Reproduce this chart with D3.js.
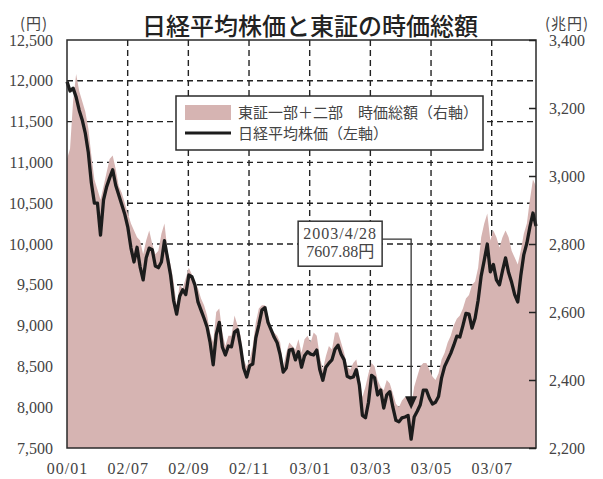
<!DOCTYPE html>
<html>
<head>
<meta charset="utf-8">
<script src="https://cdn.jsdelivr.net/npm/d3@7"></script>
<style>
  body { margin: 0; background: #fff; }
  svg { display: block; }
</style>
</head>
<body>
<div id="chart"></div>
<script>
//
// Data (one sample every ~1/10 month, left edge = 0)
//
const nikkei = [
  11990, 11875, 11910, 11800, 11640, 11520, 11360, 11120, 10750, 10500,
  10500, 10110, 10540, 10700, 10810, 10910, 10720, 10600, 10480, 10360,
  10200, 9950, 9780, 9960, 9720, 9560, 9830, 9950, 9930, 9730,
  9710, 9780, 10040, 9830, 9620, 9310, 9140, 9360, 9440, 9380,
  9620, 9600, 9500, 9290, 9190, 9090, 8980, 8790, 8520, 8890,
  9040, 8740, 8640, 8750, 8740, 8920, 8950, 8740, 8480, 8370,
  8510, 8530, 8850, 9010, 9190, 9220, 9040, 8950, 8860, 8790,
  8640, 8430, 8480, 8700, 8710, 8580, 8680, 8490, 8630, 8680,
  8650, 8640, 8700, 8460, 8330, 8490, 8540, 8580, 8710, 8760,
  8650, 8580, 8380, 8360, 8370, 8460, 8270, 7900, 7870, 8060,
  8390, 8360, 8150, 8210, 7990, 8150, 8190, 8000, 7840, 7820,
  7870, 7880, 7900, 7607.88, 7880, 7950, 8030, 8210, 8210, 8110,
  8040, 8060, 8130, 8360, 8500, 8580, 8660, 8760, 8870, 8860,
  9000, 9150, 9140, 8970, 9090, 9310, 9610, 9800, 10000, 9660,
  9750, 9560, 9500, 9670, 9830, 9650, 9530, 9380, 9290, 9610,
  9870, 10010, 10210, 10380, 10220
]
const marketCap = [
  3050, 3080, 3220, 3300, 3250, 3220, 3190, 3140, 3060, 2990,
  2960, 2930, 2970, 3010, 3050, 3060, 3020, 2970, 2950, 2920,
  2890, 2860, 2840, 2820, 2810, 2770, 2810, 2840, 2800, 2770,
  2780, 2830, 2860, 2780, 2740, 2690, 2620, 2680, 2670, 2700,
  2730, 2710, 2690, 2670, 2640, 2620, 2590, 2540, 2510, 2600,
  2610, 2540, 2500, 2530, 2530, 2590, 2560, 2530, 2460, 2440,
  2460, 2500, 2570, 2610, 2620, 2620, 2590, 2550, 2540, 2530,
  2510, 2440, 2480, 2510, 2500, 2490, 2520, 2480, 2520, 2530,
  2510, 2540, 2530, 2470, 2430, 2470, 2500, 2490, 2540, 2540,
  2510, 2480, 2440, 2430, 2450, 2460, 2410, 2350, 2380, 2420,
  2450, 2440, 2400, 2380, 2370, 2400, 2390, 2360, 2330, 2320,
  2340, 2350, 2350, 2320, 2380, 2410, 2440, 2450, 2450, 2430,
  2410, 2400, 2420, 2460, 2480, 2510, 2530, 2560, 2580, 2590,
  2610, 2640, 2650, 2680, 2690, 2730, 2820, 2860, 2890, 2810,
  2840, 2820, 2790, 2820, 2840, 2820, 2780, 2760, 2740, 2780,
  2830, 2860, 2930, 2990, 2970
]
const monthSpan = 15.46
const xTickMonths = [0, 2, 4, 6, 8, 10, 12, 14]
const xTickLabels = ['00/01', '02/07', '02/09', '02/11', '03/01', '03/03', '03/05', '03/07']
const leftTicks = [7500, 8000, 8500, 9000, 9500, 10000, 10500, 11000, 11500, 12000, 12500]
const rightTicks = [2200, 2400, 2600, 2800, 3000, 3200, 3400]
const lowIndex = 113
const lowDate = '2003/4/28'
const lowLabel = '7607.88円'

const title = '日経平均株価と東証の時価総額'
const legendCap = '東証一部＋二部　時価総額（右軸）'
const legendNikkei = '日経平均株価（左軸）'

const W = 603, H = 479
const plot = { left: 67, right: 536, top: 40, bottom: 448 }
const serif = '"Liberation Serif", "DejaVu Serif", serif'
const cjk = '"Noto Sans CJK JP", "Noto Sans", sans-serif'

const svg = d3.select('#chart').append('svg').attr('width', W).attr('height', H)

const x = d3.scaleLinear().domain([0, monthSpan]).range([plot.left, plot.right])
const yL = d3.scaleLinear().domain([7500, 12500]).range([plot.bottom, plot.top])
const yR = d3.scaleLinear().domain([2200, 3400]).range([plot.bottom, plot.top])
const monthOf = i => i * monthSpan / (nikkei.length - 1)

//
// Grid (dashed), drawn first so the area covers it
//
const grid = svg.append('g').attr('stroke', '#222').attr('stroke-width', 1.4).attr('stroke-dasharray', '6,4')
grid.selectAll('line.h').data(leftTicks.slice(1, -1)).enter().append('line')
  .attr('x1', plot.left).attr('x2', plot.right)
  .attr('y1', d => yL(d)).attr('y2', d => yL(d))
grid.selectAll('line.v').data(xTickMonths.slice(1)).enter().append('line')
  .attr('x1', d => x(d)).attr('x2', d => x(d))
  .attr('y1', plot.top).attr('y2', plot.bottom)

//
// Market cap area (right axis) and Nikkei line (left axis)
//
const area = d3.area()
  .x((d, i) => x(monthOf(i)))
  .y0(yR(2200))
  .y1(d => yR(d))
svg.append('path').datum(marketCap).attr('d', area).attr('fill', '#d6b4b2')

const line = d3.line()
  .x((d, i) => x(monthOf(i)))
  .y(d => yL(d))
svg.append('path').datum(nikkei).attr('d', line)
  .attr('fill', 'none').attr('stroke', '#1c1c1c').attr('stroke-width', 3.3)
  .attr('stroke-linejoin', 'round')

//
// Frame
//
svg.append('rect')
  .attr('x', plot.left).attr('y', plot.top)
  .attr('width', plot.right - plot.left).attr('height', plot.bottom - plot.top)
  .attr('fill', 'none').attr('stroke', '#2a2a2a').attr('stroke-width', 1.5)

//
// Axes
//
const leftAxis = svg.append('g').attr('transform', `translate(${plot.left},0)`)
  .call(d3.axisLeft(yL).tickValues(leftTicks).tickFormat(d3.format(',')).tickSize(0).tickPadding(14))
const rightAxis = svg.append('g').attr('transform', `translate(${plot.right},0)`)
  .call(d3.axisRight(yR).tickValues(rightTicks).tickFormat(d3.format(',')).tickSize(-7).tickPadding(13))
const bottomAxis = svg.append('g').attr('transform', `translate(0,${plot.bottom})`)
  .call(d3.axisBottom(x).tickValues(xTickMonths).tickFormat((d, i) => xTickLabels[i]).tickSize(0).tickPadding(15))

;[leftAxis, rightAxis, bottomAxis].forEach(g => {
  g.select('.domain').remove()
  g.selectAll('text').attr('font-family', serif).attr('font-size', 16).attr('fill', '#444')
})
rightAxis.selectAll('line').attr('stroke', '#222').attr('stroke-width', 1.5)
bottomAxis.selectAll('text').attr('letter-spacing', 1)

//
// Titles and units
//
svg.append('text').attr('x', 310).attr('y', 35).attr('text-anchor', 'middle')
  .attr('font-family', cjk).attr('font-size', 24).attr('font-weight', 500).attr('fill', '#222')
  .text(title)
svg.append('text').attr('x', 34).attr('y', 29).attr('text-anchor', 'middle')
  .attr('font-family', cjk).attr('font-size', 15).attr('fill', '#444').attr('letter-spacing', 1)
  .text('(円)')
svg.append('text').attr('x', 567).attr('y', 29).attr('text-anchor', 'middle')
  .attr('font-family', cjk).attr('font-size', 15).attr('fill', '#444').attr('letter-spacing', 1)
  .text('(兆円)')

//
// Legend
//
const legend = svg.append('g').attr('transform', 'translate(176,96)')
legend.append('rect').attr('width', 307).attr('height', 54)
  .attr('fill', '#fff').attr('stroke', '#2a2a2a').attr('stroke-width', 1.5)
legend.append('rect').attr('x', 9).attr('y', 9).attr('width', 46).attr('height', 15).attr('fill', '#d6b4b2')
legend.append('line').attr('x1', 9).attr('x2', 55).attr('y1', 37).attr('y2', 37)
  .attr('stroke', '#1c1c1c').attr('stroke-width', 3.2)
legend.append('text').attr('x', 62).attr('y', 22)
  .attr('font-family', cjk).attr('font-size', 15).attr('fill', '#444').text(legendCap)
legend.append('text').attr('x', 62).attr('y', 43)
  .attr('font-family', cjk).attr('font-size', 15).attr('fill', '#444').text(legendNikkei)

//
// Annotation for the low point
//
addAnnotation(svg, x(monthOf(lowIndex)), yL(nikkei[lowIndex]))

function addAnnotation (svg, px, py) {
  const tipY = py - 30
  const boxRight = px - 29
  const boxTop = tipY - 188
  const g = svg.append('g')
  g.append('path')
    .attr('d', `M${boxRight},${boxTop + 18}H${px}V${tipY - 12}`)
    .attr('fill', 'none').attr('stroke', '#333').attr('stroke-width', 1.3)
  g.append('path')
    .attr('d', `M${px - 6},${tipY - 13}L${px + 6},${tipY - 13}L${px},${tipY}Z`)
    .attr('fill', '#1c1c1c')
  g.append('rect').attr('x', boxRight - 84).attr('y', boxTop).attr('width', 84).attr('height', 45)
    .attr('fill', '#fff').attr('stroke', '#333').attr('stroke-width', 1.5)
  g.append('text').attr('x', boxRight - 42).attr('y', boxTop + 18).attr('text-anchor', 'middle')
    .attr('font-family', serif).attr('font-size', 16).attr('fill', '#444').attr('letter-spacing', 1)
    .text(lowDate)
  g.append('text').attr('x', boxRight - 42).attr('y', boxTop + 36).attr('text-anchor', 'middle')
    .attr('font-family', serif + ', ' + cjk).attr('font-size', 16).attr('fill', '#444')
    .text(lowLabel)
}
</script>
</body>
</html>
